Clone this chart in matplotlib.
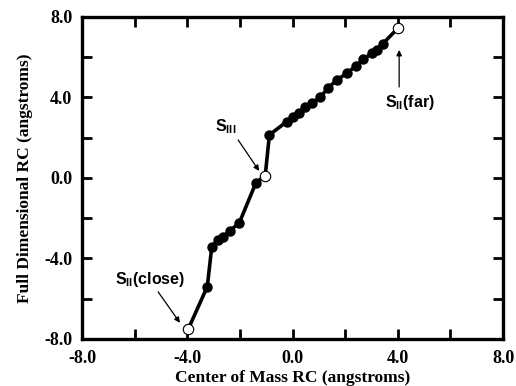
import matplotlib.pyplot as plt

plt.rcParams['mathtext.fontset'] = 'custom'
plt.rcParams['mathtext.rm'] = 'Liberation Sans:bold'
plt.rcParams['mathtext.bf'] = 'Liberation Sans:bold'

# path along the reaction coordinate
com_rc = [-3.96, -3.24, -3.07, -2.82, -2.63, -2.37, -2.02, -1.39, -1.04,
          -0.88, -0.22, 0.01, 0.26, 0.48, 0.73, 1.05, 1.35, 1.68, 2.06,
          2.41, 2.69, 3.01, 3.20, 3.42, 4.00]
full_rc = [-7.50, -5.40, -3.41, -3.08, -2.92, -2.62, -2.22, -0.23, 0.11,
           2.14, 2.80, 3.05, 3.24, 3.51, 3.71, 4.01, 4.47, 4.87, 5.20,
           5.57, 5.90, 6.20, 6.36, 6.66, 7.44]

# stationary states (open circles)
state_x = [-3.96, -1.04, 4.00]
state_y = [-7.50, 0.11, 7.44]

ticks = [-8.0, -4.0, 0.0, 4.0, 8.0]
minor = [-6, -2, 2, 6]

fig = plt.figure(figsize=(5.16, 3.86), dpi=100)
ax = fig.add_axes([0.159, 0.122, 0.816, 0.834])

ax.plot(com_rc, full_rc, color='black', lw=2.6, marker='o', ms=6.5,
        mfc='black', mec='black', zorder=2)
ax.plot(state_x, state_y, ls='none', marker='o', ms=7.5, mfc='white',
        mec='black', mew=0.8, zorder=3)

ax.set_xlim(-8, 8)
ax.set_ylim(-8, 8)
ax.set_xticks(ticks)
ax.set_yticks(ticks)
ax.set_xticks(minor, minor=True)
ax.set_yticks(minor, minor=True)
ax.set_xticklabels([f'{t:.1f}' for t in ticks])
ax.set_yticklabels([f'{t:.1f}' for t in ticks])

for s in ax.spines.values():
    s.set_linewidth(2.4)
ax.tick_params(which='both', direction='in', top=True, right=True,
               length=7, width=2)
ax.tick_params(axis='x', pad=8)
ax.tick_params(axis='y', pad=7)

for lab in ax.get_xticklabels() + ax.get_yticklabels():
    lab.set_family('Liberation Serif')
    lab.set_fontweight('bold')
    lab.set_fontsize(13)
serif = dict(family='Liberation Serif', weight='bold', size=12.5)
ax.set_xlabel('Center of Mass RC (angstroms)', labelpad=2, **serif)
ax.set_ylabel('Full Dimensional RC (angstroms)', labelpad=8, **serif)

arrow = dict(arrowstyle='-|>', color='black', lw=0.9, mutation_scale=8,
             shrinkA=0, shrinkB=0)
sans = dict(family='Liberation Sans', weight='bold', size=11.5,
            ha='center', va='center')
ax.text(-2.56, 2.53, r'$\mathrm{S}_{\mathrm{III}}$', **sans)
ax.annotate('', xy=(-1.27, 0.35), xytext=(-2.07, 1.89), arrowprops=arrow)
ax.text(4.47, 3.73, r'$\mathrm{S}_{\mathrm{II}}$(far)', **sans)
ax.annotate('', xy=(4.05, 6.36), xytext=(4.05, 4.52), arrowprops=arrow)
ax.text(-5.42, -5.07, r'$\mathrm{S}_{\mathrm{II}}$(close)', **sans)
ax.annotate('', xy=(-4.28, -7.2), xytext=(-5.11, -5.66), arrowprops=arrow)

fig.savefig('out.png', dpi=100)
